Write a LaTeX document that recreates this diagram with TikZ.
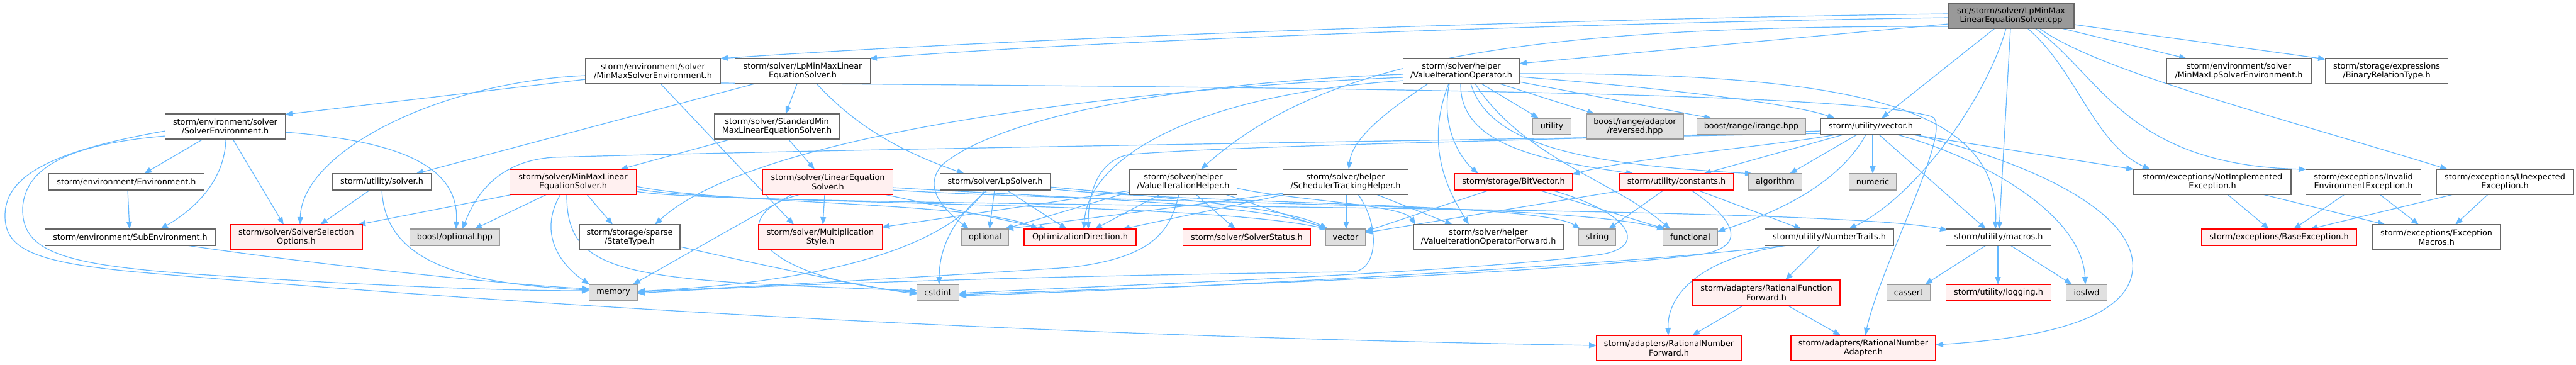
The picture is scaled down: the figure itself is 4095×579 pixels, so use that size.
\documentclass[tikz,border=0pt]{standalone}
\usepackage{fontspec}
\setmainfont{DejaVu Sans}
\usetikzlibrary{arrows.meta}
\definecolor{edgec}{HTML}{63B8FF}
\definecolor{wborder}{HTML}{666666}
\definecolor{gborder}{HTML}{999999}
\definecolor{gfill}{HTML}{E0E0E0}
\definecolor{rfill}{HTML}{FFF0F0}
\definecolor{rborder}{HTML}{FF0000}
\definecolor{mfill}{HTML}{999999}
\newcommand\nfont{\fontsize{12.8pt}{14.5pt}\selectfont}
\pgfdeclarelayer{bg}
\pgfsetlayers{bg,main}
\begin{document}
\begin{tikzpicture}[x=1pt,y=-1pt,
  nb/.style={inner sep=0pt, align=center, font=\nfont, line width=1.3pt, text=black},
  wb/.style={nb, draw=wborder, fill=white},
  gb/.style={nb, draw=gborder, fill=gfill},
  rb/.style={nb, draw=rborder, fill=rfill},
  mb/.style={nb, draw=wborder, fill=mfill},
  sz/.style 2 args={minimum width=#1pt, minimum height=#2pt},
  e/.style={draw=edgec, line width=1.2pt, -{Triangle[length=12pt,width=9pt]}}]
\useasboundingbox (0,0) rectangle (4095,579);
% ---------- nodes ----------
\node[mb, sz={200}{40}] (cpp) at (3197,25) {src/storm/solver/LpMinMax\\LinearEquationSolver.cpp};
\node[wb, sz={214}{40}] (mmse) at (1038,113) {storm/environment/solver\\/MinMaxSolverEnvironment.h};
\node[wb, sz={215}{40}] (lpmmh) at (1276,113) {storm/solver/LpMinMaxLinear\\EquationSolver.h};
\node[wb, sz={185}{40}] (viop) at (2323,113) {storm/solver/helper\\/ValueIterationOperator.h};
\node[wb, sz={230}{40}] (mmlpse) at (3559,113) {storm/environment/solver\\/MinMaxLpSolverEnvironment.h};
\node[wb, sz={195}{40}] (brt) at (3794,113) {storm/storage/expressions\\/BinaryRelationType.h};
\node[wb, sz={191}{40}] (solenv) at (358,201) {storm/environment/solver\\/SolverEnvironment.h};
\node[wb, sz={199}{40}] (stdmm) at (1235,201) {storm/solver/StandardMin\\MaxLinearEquationSolver.h};
\node[gb, sz={61}{26}] (utility) at (2467,201) {utility};
\node[gb, sz={154}{40}] (reversed) at (2599,201) {boost/range/adaptor\\/reversed.hpp};
\node[gb, sz={173}{26}] (irange) at (2784,201) {boost/range/irange.hpp};
\node[wb, sz={159}{26}] (vech) at (2974,201) {storm/utility/vector.h};
\node[wb, sz={247}{26}] (env) at (201,289) {storm/environment/Environment.h};
\node[wb, sz={158}{26}] (solverh) at (607,289) {storm/utility/solver.h};
\node[rb, sz={201}{40}] (mmles) at (911,289) {storm/solver/MinMaxLinear\\EquationSolver.h};
\node[rb, sz={207}{40}] (les) at (1316,289) {storm/solver/LinearEquation\\Solver.h};
\node[wb, sz={175}{26}] (lpsolver) at (1582,289) {storm/solver/LpSolver.h};
\node[wb, sz={171}{40}] (vihelper) at (1881,289) {storm/solver/helper\\/ValueIterationHelper.h};
\node[wb, sz={199}{40}] (schedth) at (2139,289) {storm/solver/helper\\/SchedulerTrackingHelper.h};
\node[rb, sz={187}{26}] (bitvector) at (2406,289) {storm/storage/BitVector.h};
\node[rb, sz={182}{26}] (constants) at (2665,289) {storm/utility/constants.h};
\node[gb, sz={85}{26}] (algorithm) at (2822,289) {algorithm};
\node[gb, sz={75}{26}] (numeric) at (2977,289) {numeric};
\node[wb, sz={250}{40}] (notimpl) at (3517,289) {storm/exceptions/NotImplemented\\Exception.h};
\node[wb, sz={183}{40}] (invalid) at (3757,289) {storm/exceptions/Invalid\\EnvironmentException.h};
\node[wb, sz={218}{40}] (unexpected) at (3982,289) {storm/exceptions/Unexpected\\Exception.h};
\node[wb, sz={271}{26}] (subenv) at (207,377) {storm/environment/SubEnvironment.h};
\node[rb, sz={210}{40}] (sso) at (471,377) {storm/solver/SolverSelection\\Options.h};
\node[gb, sz={143}{26}] (boostopt) at (723,377) {boost/optional.hpp};
\node[wb, sz={160}{40}] (statetype) at (1001,377) {storm/storage/sparse\\/StateType.h};
\node[rb, sz={197}{40}] (multstyle) at (1304,377) {storm/solver/Multiplication\\Style.h};
\node[gb, sz={74}{26}] (optional) at (1566,377) {optional};
\node[rb, sz={178}{26}] (optdir) at (1717,377) {OptimizationDirection.h};
\node[rb, sz={203}{26}] (solverstatus) at (1982,377) {storm/solver/SolverStatus.h};
\node[gb, sz={63}{26}] (stdvector) at (2139,377) {vector};
\node[wb, sz={238}{40}] (viopfwd) at (2366,377) {storm/solver/helper\\/ValueIterationOperatorForward.h};
\node[gb, sz={59}{26}] (string) at (2539,377) {string};
\node[gb, sz={87}{26}] (functional) at (2687,377) {functional};
\node[wb, sz={205}{26}] (numtraits) at (2908,377) {storm/utility/NumberTraits.h};
\node[wb, sz={167}{26}] (macros) at (3177,377) {storm/utility/macros.h};
\node[rb, sz={247}{26}] (baseexc) at (3623,377) {storm/exceptions/BaseException.h};
\node[wb, sz={203}{40}] (excmacros) at (3873,377) {storm/exceptions/Exception\\Macros.h};
\node[gb, sz={77}{26}] (memory) at (975,465) {memory};
\node[gb, sz={67}{26}] (cstdint) at (1491,465) {cstdint};
\node[rb, sz={234}{40}] (rff) at (2808,465) {storm/adapters/RationalFunction\\Forward.h};
\node[gb, sz={69}{26}] (cassert) at (3034,465) {cassert};
\node[rb, sz={167}{26}] (logging) at (3177,465) {storm/utility/logging.h};
\node[gb, sz={65}{26}] (iosfwd) at (3317,465) {iosfwd};
\node[rb, sz={230}{40}] (rnf) at (2653,553) {storm/adapters/RationalNumber\\Forward.h};
\node[rb, sz={230}{40}] (rna) at (2962,553) {storm/adapters/RationalNumber\\Adapter.h};
% ---------- edges ----------
\begin{pgfonlayer}{bg}
\fill[white] (0,0) rectangle (4095,579);
\draw[e] ([shift={(-100,-3)}]cpp.center) .. controls (2600,28) and (1700,55) .. ([shift={(107,-20)}]mmse.center);
\draw[e] ([shift={(-100,3)}]cpp.center) .. controls (2600,35) and (1800,60) .. ([shift={(106,-20)}]lpmmh.center);
\draw[e] ([shift={(-100,13)}]cpp.center) -- ([shift={(92,-12)}]viop.center);
\draw[e] ([shift={(-100,17)}]cpp.center) .. controls (2400,40) and (2100,100) .. ([shift={(28,-20)}]vihelper.center);
\draw[e] ([shift={(80,20)}]cpp.center) -- ([shift={(-83,-20)}]mmlpse.center);
\draw[e] ([shift={(100,14)}]cpp.center) -- ([shift={(-97,-19)}]brt.center);
\draw[e] ([shift={(26,20)}]cpp.center) .. controls (3300,110) and (3330,230) .. ([shift={(-99,-20)}]notimpl.center);
\draw[e] ([shift={(38,20)}]cpp.center) .. controls (3340,120) and (3380,262) .. ([shift={(-91,-20)}]invalid.center);
\draw[e] ([shift={(45,20)}]cpp.center) .. controls (3330,110) and (3600,180) .. ([shift={(-91,-20)}]unexpected.center);
\draw[e] ([shift={(-26,20)}]cpp.center) -- ([shift={(17,-13)}]vech.center);
\draw[e] ([shift={(-8,20)}]cpp.center) .. controls (3160,150) and (3050,310) .. ([shift={(31,-13)}]numtraits.center);
\draw[e] ([shift={(-1,20)}]cpp.center) -- ([shift={(1,-13)}]macros.center);
\draw[e] ([shift={(-107,13)}]mmse.center) -- ([shift={(95,-19)}]solenv.center);
\draw[e] ([shift={(-107,7)}]mmse.center) .. controls (700,130) and (480,240) .. ([shift={(6,-20)}]sso.center);
\draw[e] ([shift={(12,20)}]mmse.center) -- ([shift={(-42,-20)}]multstyle.center);
\draw[e] ([shift={(107,19)}]mmse.center) .. controls (2300,140) and (2950,150) .. (3070,185) .. controls (3110,197) and (2990,420) .. ([shift={(3,-20)}]rna.center);
\draw[e] ([shift={(-35,20)}]solenv.center) -- ([shift={(28,-13)}]env.center);
\draw[e] ([shift={(1,20)}]solenv.center) .. controls (358,270) and (330,320) .. ([shift={(48,-13)}]subenv.center);
\draw[e] ([shift={(12,20)}]solenv.center) -- ([shift={(-20,-20)}]sso.center);
\draw[e] ([shift={(95,9)}]solenv.center) .. controls (650,225) and (730,270) .. ([shift={(2,-13)}]boostopt.center);
\draw[e] ([shift={(-95,15)}]solenv.center) .. controls (100,230) and (40,270) .. (36,330) .. controls (34,400) and (100,420) .. (300,435) .. controls (600,455) and (800,462) .. ([shift={(-38,-3)}]memory.center);
\draw[e] ([shift={(-95,7)}]solenv.center) .. controls (80,240) and (10,280) .. (8,340) .. controls (6,400) and (60,420) .. (261,436) .. controls (1200,515) and (2000,540) .. ([shift={(-115,-4)}]rnf.center);
\draw[e] ([shift={(2,13)}]env.center) -- ([shift={(-1,-13)}]subenv.center);
\draw[e] ([shift={(90,13)}]subenv.center) .. controls (500,420) and (800,452) .. ([shift={(-38,-6)}]memory.center);
\draw[e] ([shift={(-19,13)}]solverh.center) -- ([shift={(38,-20)}]sso.center);
\draw[e] ([shift={(0,13)}]solverh.center) .. controls (612,410) and (720,450) .. ([shift={(-38,-4)}]memory.center);
\draw[e] ([shift={(-76,20)}]lpmmh.center) -- ([shift={(54,-13)}]solverh.center);
\draw[e] ([shift={(-9,20)}]lpmmh.center) -- ([shift={(14,-20)}]stdmm.center);
\draw[e] ([shift={(22,20)}]lpmmh.center) .. controls (1360,200) and (1430,240) .. ([shift={(-49,-13)}]lpsolver.center);
\draw[e] ([shift={(-72,20)}]stdmm.center) -- ([shift={(75,-20)}]mmles.center);
\draw[e] ([shift={(18,20)}]stdmm.center) -- ([shift={(-21,-20)}]les.center);
\draw[e] ([shift={(-96,20)}]mmles.center) -- ([shift={(98,-20)}]sso.center);
\draw[e] ([shift={(-42,20)}]mmles.center) -- ([shift={(31,-13)}]boostopt.center);
\draw[e] ([shift={(-20,20)}]mmles.center) .. controls (855,370) and (890,420) .. ([shift={(-38,-13)}]memory.center);
\draw[e] ([shift={(22,20)}]mmles.center) -- ([shift={(-27,-20)}]statetype.center);
\draw[e] ([shift={(-10,20)}]mmles.center) .. controls (900,440) and (1000,445) .. ([shift={(-33,-3)}]cstdint.center);
\draw[e] ([shift={(100,7)}]mmles.center) .. controls (1150,325) and (1550,320) .. ([shift={(-66,-13)}]optdir.center);
\draw[e] ([shift={(100,11)}]mmles.center) .. controls (1150,328) and (1900,318) .. ([shift={(-29,-13)}]stdvector.center);
\draw[e] ([shift={(100,15)}]mmles.center) .. controls (1150,332) and (2900,322) .. ([shift={(-81,-11)}]macros.center);
\draw[e] ([shift={(-5,20)}]les.center) -- ([shift={(4,-20)}]multstyle.center);
\draw[e] ([shift={(-57,20)}]les.center) -- ([shift={(31,-13)}]memory.center);
\draw[e] ([shift={(-44,20)}]les.center) .. controls (1150,340) and (1190,440) .. ([shift={(-33,0)}]cstdint.center);
\draw[e] ([shift={(90,20)}]les.center) -- ([shift={(-53,-13)}]optdir.center);
\draw[e] ([shift={(103,9)}]les.center) .. controls (1700,315) and (2000,322) .. ([shift={(-29,-13)}]stdvector.center);
\draw[e] ([shift={(103,13)}]les.center) .. controls (1800,325) and (2500,322) .. ([shift={(-41,-12)}]functional.center);
\draw[e] ([shift={(-16,13)}]lpsolver.center) .. controls (1520,370) and (1380,445) .. ([shift={(38,-2)}]memory.center);
\draw[e] ([shift={(-12,13)}]lpsolver.center) .. controls (1510,350) and (1493,400) .. ([shift={(2,-13)}]cstdint.center);
\draw[e] ([shift={(-1,13)}]lpsolver.center) -- ([shift={(7,-13)}]optional.center);
\draw[e] ([shift={(18,13)}]lpsolver.center) -- ([shift={(-21,-13)}]optdir.center);
\draw[e] ([shift={(87,8)}]lpsolver.center) .. controls (1850,314) and (2050,330) .. ([shift={(-29,-13)}]stdvector.center);
\draw[e] ([shift={(87,11)}]lpsolver.center) .. controls (1900,325) and (2450,322) .. ([shift={(-27,-13)}]string.center);
\draw[e] ([shift={(-85,14)}]vihelper.center) -- ([shift={(98,-16)}]multstyle.center);
\draw[e] ([shift={(-85,16)}]vihelper.center) -- ([shift={(31,-13)}]optional.center);
\draw[e] ([shift={(-37,20)}]vihelper.center) -- ([shift={(23,-13)}]optdir.center);
\draw[e] ([shift={(-7,20)}]vihelper.center) .. controls (1860,370) and (1830,410) .. (1700,425) .. controls (1400,445) and (1100,460) .. ([shift={(38,-1)}]memory.center);
\draw[e] ([shift={(20,20)}]vihelper.center) -- ([shift={(-18,-13)}]solverstatus.center);
\draw[e] ([shift={(67,20)}]vihelper.center) -- ([shift={(-27,-13)}]stdvector.center);
\draw[e] ([shift={(85,10)}]vihelper.center) .. controls (2050,318) and (2230,325) .. ([shift={(-116,-20)}]viopfwd.center);
\draw[e] ([shift={(-95,20)}]schedth.center) -- ([shift={(67,-13)}]optdir.center);
\draw[e] ([shift={(1,20)}]schedth.center) -- ([shift={(1,-13)}]stdvector.center);
\draw[e] ([shift={(20,20)}]schedth.center) .. controls (2195,360) and (2190,430) .. (2150,432) .. controls (1800,436) and (1300,448) .. ([shift={(38,1)}]memory.center);
\draw[e] ([shift={(49,20)}]schedth.center) -- ([shift={(-57,-20)}]viopfwd.center);
\draw[e] ([shift={(-99,18)}]schedth.center) -- ([shift={(33,-13)}]optional.center);
\draw[e] ([shift={(32,20)}]viop.center) -- ([shift={(-21,-13)}]utility.center);
\draw[e] ([shift={(61,20)}]viop.center) -- ([shift={(-64,-20)}]reversed.center);
\draw[e] ([shift={(92,17)}]viop.center) -- ([shift={(-63,-13)}]irange.center);
\draw[e] ([shift={(92,9)}]viop.center) .. controls (2650,140) and (2850,165) .. ([shift={(-57,-13)}]vech.center);
\draw[e] ([shift={(-53,20)}]viop.center) .. controls (2200,180) and (2150,220) .. ([shift={(5,-20)}]schedth.center);
\draw[e] ([shift={(-19,20)}]viop.center) .. controls (2290,200) and (2320,250) .. ([shift={(-56,-13)}]bitvector.center);
\draw[e] ([shift={(-1,20)}]viop.center) .. controls (2320,230) and (2450,255) .. ([shift={(-68,-13)}]constants.center);
\draw[e] ([shift={(15,20)}]viop.center) .. controls (2370,240) and (2550,262) .. ([shift={(-36,-13)}]algorithm.center);
\draw[e] ([shift={(-20,20)}]viop.center) .. controls (2265,230) and (2300,300) .. ([shift={(-31,-20)}]viopfwd.center);
\draw[e] ([shift={(22,20)}]viop.center) .. controls (2420,250) and (2570,290) .. ([shift={(-32,-13)}]functional.center);
\draw[e] ([shift={(-92,5)}]viop.center) .. controls (1900,130) and (1600,180) .. (1500,260) .. controls (1460,300) and (1510,340) .. ([shift={(-26,-13)}]optional.center);
\draw[e] ([shift={(-92,10)}]viop.center) .. controls (1800,140) and (1200,210) .. ([shift={(40,-20)}]statetype.center);
\draw[e] ([shift={(-92,15)}]viop.center) .. controls (1900,150) and (1730,250) .. ([shift={(6,-13)}]optdir.center);
\draw[e] ([shift={(92,4)}]viop.center) .. controls (2950,115) and (3180,170) .. ([shift={(-5,-13)}]macros.center);
\draw[e] ([shift={(3,13)}]vech.center) -- ([shift={(0,-13)}]numeric.center);
\draw[e] ([shift={(13,13)}]vech.center) -- ([shift={(-20,-13)}]macros.center);
\draw[e] ([shift={(67,13)}]vech.center) -- ([shift={(-125,-20)}]notimpl.center);
\draw[e] ([shift={(-22,13)}]vech.center) -- ([shift={(23,-13)}]algorithm.center);
\draw[e] ([shift={(-44,13)}]vech.center) -- ([shift={(43,-13)}]constants.center);
\draw[e] ([shift={(-57,13)}]vech.center) .. controls (2850,228) and (2600,250) .. ([shift={(93,-12)}]bitvector.center);
\draw[e] ([shift={(-8,13)}]vech.center) .. controls (2930,280) and (2850,330) .. ([shift={(43,-9)}]functional.center);
\draw[e] ([shift={(-79,11)}]vech.center) .. controls (2400,222) and (1400,235) .. (880,250) .. controls (800,255) and (760,300) .. ([shift={(12,-13)}]boostopt.center);
\draw[e] ([shift={(-79,7)}]vech.center) .. controls (2400,225) and (2000,230) .. (1800,245) .. controls (1750,250) and (1730,300) .. ([shift={(13,-13)}]optdir.center);
\draw[e] ([shift={(69,13)}]vech.center) .. controls (3200,250) and (3400,330) .. (3390,430) .. controls (3380,520) and (3200,540) .. ([shift={(115,-5)}]rna.center);
\draw[e] ([shift={(42,13)}]vech.center) .. controls (3150,250) and (3310,340) .. ([shift={(-2,-13)}]iosfwd.center);
\draw[e] ([shift={(-38,13)}]bitvector.center) -- ([shift={(31,-9)}]stdvector.center);
\draw[e] ([shift={(40,13)}]bitvector.center) -- ([shift={(-39,-13)}]functional.center);
\draw[e] ([shift={(60,13)}]bitvector.center) .. controls (2600,340) and (2620,395) .. (2540,405) .. controls (2300,435) and (1800,452) .. ([shift={(33,1)}]cstdint.center);
\draw[e] ([shift={(-82,13)}]constants.center) -- ([shift={(31,-7)}]stdvector.center);
\draw[e] ([shift={(-20,13)}]constants.center) -- ([shift={(18,-13)}]string.center);
\draw[e] ([shift={(33,13)}]constants.center) -- ([shift={(-44,-13)}]numtraits.center);
\draw[e] ([shift={(23,13)}]constants.center) .. controls (2760,350) and (2780,393) .. (2700,405) .. controls (2400,440) and (1800,458) .. ([shift={(33,3)}]cstdint.center);
\draw[e] ([shift={(-15,13)}]numtraits.center) -- ([shift={(30,-20)}]rff.center);
\draw[e] ([shift={(-67,13)}]numtraits.center) .. controls (2700,410) and (2650,470) .. ([shift={(-1,-20)}]rnf.center);
\draw[e] ([shift={(-70,13)}]numtraits.center) .. controls (2600,420) and (1900,458) .. ([shift={(33,5)}]cstdint.center);
\draw[e] ([shift={(-36,20)}]rff.center) -- ([shift={(37,-20)}]rnf.center);
\draw[e] ([shift={(33,20)}]rff.center) -- ([shift={(-36,-20)}]rna.center);
\draw[e] ([shift={(-1,13)}]macros.center) -- ([shift={(-1,-13)}]logging.center);
\draw[e] ([shift={(19,13)}]macros.center) -- ([shift={(-23,-13)}]iosfwd.center);
\draw[e] ([shift={(-20,13)}]macros.center) -- ([shift={(26,-13)}]cassert.center);
\draw[e] ([shift={(24,20)}]notimpl.center) -- ([shift={(-16,-13)}]baseexc.center);
\draw[e] ([shift={(80,20)}]notimpl.center) -- ([shift={(-81,-20)}]excmacros.center);
\draw[e] ([shift={(-30,20)}]invalid.center) -- ([shift={(23,-13)}]baseexc.center);
\draw[e] ([shift={(26,20)}]invalid.center) -- ([shift={(-28,-20)}]excmacros.center);
\draw[e] ([shift={(-82,20)}]unexpected.center) -- ([shift={(49,-13)}]baseexc.center);
\draw[e] ([shift={(-27,20)}]unexpected.center) -- ([shift={(30,-20)}]excmacros.center);
\draw[e] ([shift={(80,15)}]statetype.center) .. controls (1250,430) and (1400,460) .. ([shift={(-33,2)}]cstdint.center);
\end{pgfonlayer}
\end{tikzpicture}
\end{document}
